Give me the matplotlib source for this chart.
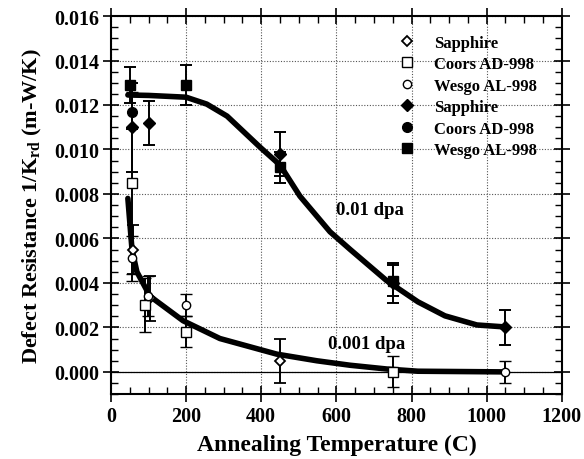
import matplotlib
matplotlib.use("Agg")
import matplotlib.pyplot as plt
from matplotlib.lines import Line2D
from matplotlib.ticker import MultipleLocator

plt.rcParams['font.family'] = ['Liberation Serif', 'DejaVu Serif']
plt.rcParams['font.weight'] = 'bold'
plt.rcParams['mathtext.fontset'] = 'custom'
plt.rcParams['mathtext.rm'] = 'Liberation Serif:bold'
plt.rcParams['mathtext.it'] = 'Liberation Serif:bold'
plt.rcParams['mathtext.bf'] = 'Liberation Serif:bold'

# ---- data: 0.001 dpa (open markers) ----
sapph_lo_x = [58, 105, 450]
sapph_lo_y = [0.0055, 0.0033, 0.0005]
sapph_lo_e = [0.0011, 0.0010, 0.0010]

coors_lo_x = [55, 90, 200, 750]
coors_lo_y = [0.0085, 0.0030, 0.0018, 0.0000]
coors_lo_e = [0.0041, 0.0012, 0.0007, 0.0007]

wesgo_lo_x = [56, 98, 200, 1050]
wesgo_lo_y = [0.0051, 0.0034, 0.0030, 0.0000]
wesgo_lo_e = [0.0010, 0.0009, 0.0005, 0.0005]

# ---- data: 0.01 dpa (filled markers) ----
sapph_hi_x = [55, 100, 450, 750, 1050]
sapph_hi_y = [0.0110, 0.0112, 0.0098, 0.0040, 0.0020]
sapph_hi_e = [0.0020, 0.0010, 0.0010, 0.0009, 0.0008]

coors_hi_x = [55]
coors_hi_y = [0.0117]
coors_hi_e = [0.0008]

wesgo_hi_x = [50, 200, 450, 750]
wesgo_hi_y = [0.0129, 0.0129, 0.0092, 0.0041]
wesgo_hi_e = [0.0008, 0.0009, 0.0007, 0.0007]

# ---- fitted curves ----
curve_hi_x = [45, 100, 200, 255, 309, 397, 450, 503, 583, 637, 734, 817, 889, 974, 1050]
curve_hi_y = [0.01245, 0.01243, 0.01235, 0.01204, 0.0115, 0.0101, 0.0093, 0.0079,
              0.0063, 0.0055, 0.0041, 0.00315, 0.00252, 0.00211, 0.00202]

curve_lo_x = [45, 56, 69, 104, 192, 290, 441, 548, 636, 734, 817, 1050]
curve_lo_y = [0.0078, 0.0055, 0.0045, 0.0034, 0.0023, 0.0015, 0.0008, 0.0005,
              0.0003, 0.00013, 0.00003, 0.0]

legend_labels = ['Sapphire', 'Coors AD-998', 'Wesgo AL-998',
                 'Sapphire', 'Coors AD-998', 'Wesgo AL-998']

fig = plt.figure(figsize=(5.84, 4.60), dpi=100)
ax = fig.add_axes([0.190, 0.141, 0.772, 0.822])

ax.plot(curve_hi_x, curve_hi_y, color='black', lw=4, solid_capstyle='round', zorder=3)
ax.plot(curve_lo_x, curve_lo_y, color='black', lw=4, solid_capstyle='round', zorder=3)

ekw = dict(ecolor='black', elinewidth=1.4, capsize=4, capthick=1.4, linestyle='none', zorder=4)
ax.errorbar(sapph_lo_x, sapph_lo_y, yerr=sapph_lo_e, marker='D', ms=5, mfc='white', mec='black', mew=1.3, **ekw)
ax.errorbar(coors_lo_x, coors_lo_y, yerr=coors_lo_e, marker='s', ms=7, mfc='white', mec='black', mew=1.0, **ekw)
ax.errorbar(wesgo_lo_x, wesgo_lo_y, yerr=wesgo_lo_e, marker='o', ms=6, mfc='white', mec='black', mew=1.0, **ekw)
ax.errorbar(sapph_hi_x, sapph_hi_y, yerr=sapph_hi_e, marker='D', ms=6.5, mfc='black', mec='black', **ekw)
ax.errorbar(coors_hi_x, coors_hi_y, yerr=coors_hi_e, marker='o', ms=7, mfc='black', mec='black', **ekw)
ax.errorbar(wesgo_hi_x, wesgo_hi_y, yerr=wesgo_hi_e, marker='s', ms=7.5, mfc='black', mec='black', **ekw)

ax.axhline(0, color='black', lw=0.9, zorder=2)

ax.set_xlim(0, 1200)
ax.set_ylim(-0.001, 0.016)
ax.xaxis.set_major_locator(MultipleLocator(200))
ax.xaxis.set_minor_locator(MultipleLocator(50))
ax.set_yticks([0, 0.002, 0.004, 0.006, 0.008, 0.010, 0.012, 0.014, 0.016])
ax.set_yticklabels(['0.000', '0.002', '0.004', '0.006', '0.008', '0.010', '0.012', '0.014', '0.016'])
ax.yaxis.set_minor_locator(MultipleLocator(0.0005))

ax.tick_params(which='major', direction='inout', length=11, width=1.2, top=True, right=True,
               labelsize=14.5, pad=3)
ax.tick_params(which='minor', direction='in', length=5, width=1.0, top=True, right=True)
for s in ax.spines.values():
    s.set_linewidth(1.5)

ax.grid(True, which='major', linestyle=(0, (1, 1.5)), color='#555555', lw=0.8)

ax.set_xlabel('Annealing Temperature (C)', fontsize=17, fontweight='bold', labelpad=6)
ax.set_ylabel(r'Defect Resistance 1/K$_{\mathrm{rd}}$ (m-W/K)', fontsize=16, fontweight='bold', labelpad=7)

ax.text(690, 0.0073, '0.01 dpa', fontsize=13.5, fontweight='bold', ha='center', va='center')
ax.text(680, 0.00126, '0.001 dpa', fontsize=13.5, fontweight='bold', ha='center', va='center')

handles = [
    Line2D([], [], ls='none', marker='D', ms=5, mfc='white', mec='black', mew=1.3),
    Line2D([], [], ls='none', marker='s', ms=7, mfc='white', mec='black', mew=1.0),
    Line2D([], [], ls='none', marker='o', ms=6, mfc='white', mec='black', mew=1.0),
    Line2D([], [], ls='none', marker='D', ms=6.5, mfc='black', mec='black'),
    Line2D([], [], ls='none', marker='o', ms=7, mfc='black', mec='black'),
    Line2D([], [], ls='none', marker='s', ms=7.5, mfc='black', mec='black'),
]
leg = ax.legend(handles, legend_labels, loc='upper left', bbox_to_anchor=(0.605, 0.99),
                frameon=False, handlelength=1.0, handletextpad=1.1,
                labelspacing=0.33, prop={'weight': 'bold', 'size': 12})

fig.savefig('out.png', dpi=100)
